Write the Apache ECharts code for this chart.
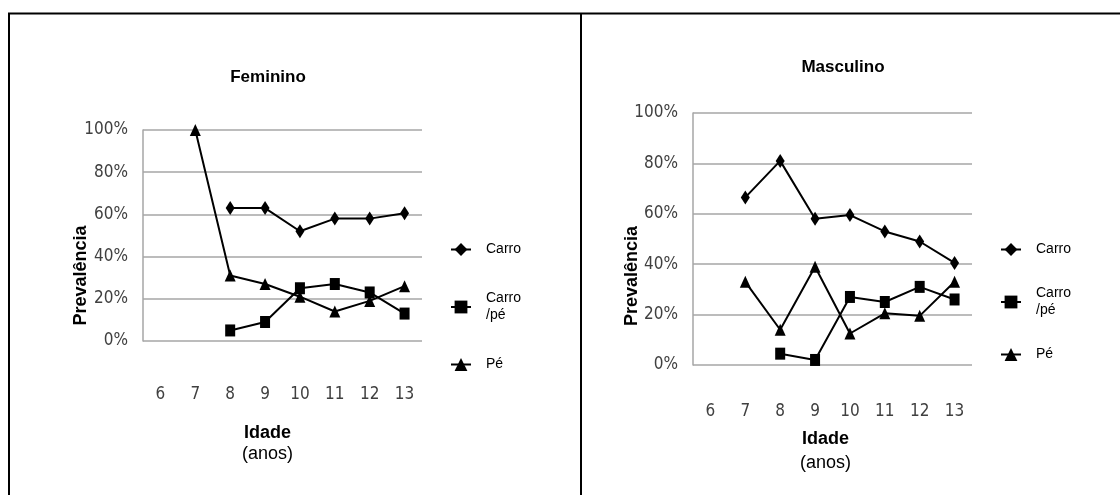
<!DOCTYPE html>
<html>
<head>
<meta charset="utf-8">
<script src="https://cdn.jsdelivr.net/npm/echarts@6/dist/echarts.min.js"></script>
<style>html,body{margin:0;padding:0;background:#fff}#c{width:1120px;height:495px}</style>
</head>
<body>
<div id="c"></div>
<script>
const ages = ['6','7','8','9','10','11','12','13'];
const yTicks = [0, 20, 40, 60, 80, 100];
const femCarro   = [null, null, 63, 63, 52, 58, 58, 60.5];
const femCarroPe = [null, null, 5, 9, 25, 27, 23, 13];
const femPe      = [null, 100, 31, 27, 21, 14, 19, 26];
const mascCarro   = [null, 66.5, 81, 58, 59.5, 53, 49, 40.5];
const mascCarroPe = [null, null, 4.5, 2, 27, 25, 31, 26];
const mascPe      = [null, 33, 14, 39, 12.5, 20.5, 19.5, 33];
const seriesNames = ['Carro', 'Carro\n/pé', 'Pé'];
const panelTitles = ['Feminino', 'Masculino'];

const tickFont = {fontFamily: '"DejaVu Sans Condensed",sans-serif', fontSize: 17, color: '#404040'};
const gridColor = '#a6a6a6';
const symbols = [['diamond', [9, 14]], ['rect', [10, 12]], ['triangle', [11, 12]]];

function yAxis(gridIndex, nameGap, padRight) {
  return {
    type: 'value', gridIndex, min: yTicks[0], max: yTicks[yTicks.length - 1], interval: 20,
    axisLabel: Object.assign({formatter: '{value}%', margin: 15}, tickFont),
    axisLine: {show: true, lineStyle: {color: gridColor, width: 1.5}},
    axisTick: {show: false},
    splitLine: {lineStyle: {color: gridColor, width: 1.5}},
    name: 'Prevalência', nameLocation: 'middle', nameRotate: 90, nameGap, nameMoveOverlap: false,
    nameTextStyle: {fontFamily: '"Liberation Sans",Arial,sans-serif', fontWeight: 'bold', fontSize: 18, color: '#000', padding: [0, padRight, 0, 0]}
  };
}
function xAxis(gridIndex, margin, nameGap, lh, padRight) {
  return {
    type: 'category', gridIndex, data: ages, boundaryGap: true,
    axisLabel: Object.assign({margin}, tickFont),
    axisLine: {show: false}, axisTick: {show: false}, splitLine: {show: false},
    name: '{b|Idade}\n{n|(anos)}', nameLocation: 'middle', nameGap,
    nameTextStyle: {
      padding: [0, padRight, 0, 0],
      rich: {
        b: {fontFamily: '"Liberation Sans",Arial,sans-serif', fontWeight: 'bold', fontSize: 18, color: '#000', lineHeight: lh},
        n: {fontFamily: '"Liberation Sans",Arial,sans-serif', fontSize: 18, color: '#000', lineHeight: lh}
      }
    }
  };
}
function mkSeries(idx, data) {
  return data.map((d, i) => ({
    type: 'line', name: seriesNames[i], xAxisIndex: idx, yAxisIndex: idx, data: d,
    symbol: symbols[i][0], symbolSize: symbols[i][1], showSymbol: true,
    lineStyle: {color: '#000', width: 2}, itemStyle: {color: '#000'},
    connectNulls: false, animation: false
  }));
}
function legend(left, top, gap) {
  return {
    data: seriesNames, orient: 'vertical', left, top, itemGap: gap, itemWidth: 20, itemHeight: 16,
    textStyle: {fontFamily: '"Liberation Sans",Arial,sans-serif', fontSize: 14, color: '#000', padding: [0, 0, 0, 10], lineHeight: 17}
  };
}

const chart = echarts.init(document.getElementById('c'), null, {renderer: 'canvas'});
chart.setOption({
  animation: false,
  backgroundColor: '#fff',
  title: [
    {text: panelTitles[0], left: 268, top: 69, textAlign: 'center', padding: 0, textStyle: {fontFamily: '"Liberation Sans",Arial,sans-serif', fontWeight: 'bold', fontSize: 17, color: '#000'}},
    {text: panelTitles[1], left: 843, top: 59, textAlign: 'center', padding: 0, textStyle: {fontFamily: '"Liberation Sans",Arial,sans-serif', fontWeight: 'bold', fontSize: 17, color: '#000'}}
  ],
  grid: [
    {left: 143, right: 698, top: 130, bottom: 154},
    {left: 693, right: 148, top: 113, bottom: 130}
  ],
  xAxis: [xAxis(0, 45, 82, 21, 30), xAxis(1, 38, 62, 24, 14)],
  yAxis: [yAxis(0, 53, 80), yAxis(1, 52, 74)],
  legend: [legend(445, 236, 32), legend(995, 236, 27)],
  series: [].concat(mkSeries(0, [femCarro, femCarroPe, femPe]), mkSeries(1, [mascCarro, mascCarroPe, mascPe])),
  graphic: [
    {type: 'line', shape: {x1: 8, y1: 13.5, x2: 1120, y2: 13.5}, style: {stroke: '#000', lineWidth: 2}},
    {type: 'line', shape: {x1: 9, y1: 13, x2: 9, y2: 495}, style: {stroke: '#000', lineWidth: 2}},
    {type: 'line', shape: {x1: 581, y1: 13, x2: 581, y2: 495}, style: {stroke: '#000', lineWidth: 2}}
  ]
});
</script>
</body>
</html>
